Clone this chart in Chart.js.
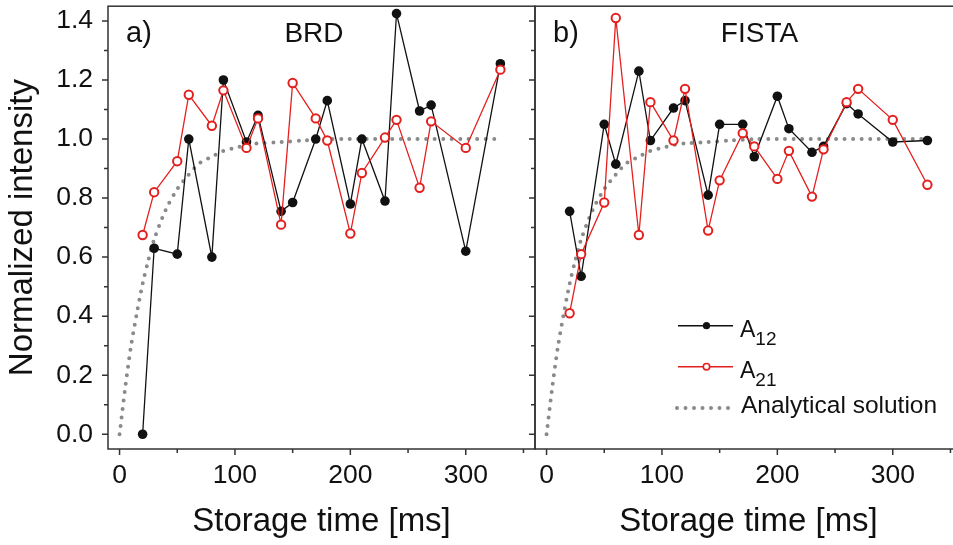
<!DOCTYPE html>
<html>
<head>
<meta charset="utf-8">
<script src="https://cdn.jsdelivr.net/npm/chart.js@4.4.1/dist/chart.umd.min.js"></script>
<style>
  html, body { margin:0; padding:0; background:#fff; overflow:hidden; width:953px; height:545px; }
  canvas { position:absolute; top:0; }
  #brd { left:0; }
  #fista { left:520px; }
</style>
</head>
<body>
<canvas id="brd" width="545" height="545"></canvas>
<canvas id="fista" width="452" height="545"></canvas>
<script>
// storage times shared by all measured series [ms]
const timesMs = [20, 30, 50, 60, 80, 90, 110, 120, 140, 150, 170, 180, 200, 210, 230, 240, 260, 270, 300, 330];

// a) BRD
const brdA12 = [0.00, 0.63, 0.61, 1.00, 0.60, 1.20, 0.99, 1.08, 0.755, 0.785, 1.00, 1.13, 0.78, 1.00, 0.79, 1.425, 1.095, 1.115, 0.62, 1.255];
const brdA21 = [0.675, 0.82, 0.925, 1.15, 1.045, 1.165, 0.97, 1.07, 0.71, 1.19, 1.07, 0.995, 0.68, 0.885, 1.005, 1.065, 0.835, 1.06, 0.97, 1.235];

// b) FISTA
const fistaA12 = [0.755, 0.535, 1.05, 0.915, 1.23, 0.995, 1.105, 1.13, 0.81, 1.05, 1.05, 0.94, 1.145, 1.035, 0.955, 0.975, 1.12, 1.085, 0.99, 0.995];
const fistaA21 = [0.41, 0.61, 0.785, 1.41, 0.675, 1.125, 0.995, 1.17, 0.69, 0.86, 1.02, 0.975, 0.865, 0.96, 0.805, 0.965, 1.125, 1.17, 1.065, 0.845];

// analytical solution
const analyticT = [0, 5, 10, 15, 20, 25, 30, 40, 50, 60, 70, 80, 90, 100, 110, 120, 140, 160, 180, 200, 250, 300, 330];
const analyticY = [0, 0.16, 0.30, 0.41, 0.51, 0.59, 0.66, 0.76, 0.83, 0.88, 0.92, 0.94, 0.96, 0.97, 0.98, 0.985, 0.99, 0.995, 1.0, 1.0, 1.0, 1.0, 1.0];

// axis ticks
const xMajorTicks = [0, 100, 200, 300];
const xMinorTicks = [50, 150, 250, 350];
const yMajorTicks = [0, 0.2, 0.4, 0.6, 0.8, 1.0, 1.2, 1.4];
const yMinorTicks = [0.1, 0.3, 0.5, 0.7, 0.9, 1.1, 1.3];

const FONT = "'Liberation Sans', Arial, Helvetica, sans-serif";
const BLACK = '#111111', RED = '#e3201e', GRAY = '#8a8a8a', AXIS = '#333333', TEXT = '#111111';

const pts = (xs, ys) => xs.map((x, i) => ({ x, y: ys[i] }));

// frame, outward ticks, panel labels and legend
const decor = {
  id: 'decor',
  afterDraw(chart, args, o) {
    const { ctx, chartArea: a, scales: { x, y } } = chart;
    ctx.save();
    ctx.strokeStyle = AXIS;
    ctx.lineWidth = 1.5;
    ctx.strokeRect(a.left, a.top, a.right - a.left, a.bottom - a.top);
    ctx.beginPath();
    xMajorTicks.forEach(v => { const p = x.getPixelForValue(v); ctx.moveTo(p, a.bottom); ctx.lineTo(p, a.bottom + 6); });
    xMinorTicks.forEach(v => { const p = x.getPixelForValue(v); ctx.moveTo(p, a.bottom); ctx.lineTo(p, a.bottom + 4); });
    yMajorTicks.forEach(v => { const p = y.getPixelForValue(v); ctx.moveTo(a.left, p); ctx.lineTo(a.left - 6, p); });
    yMinorTicks.forEach(v => { const p = y.getPixelForValue(v); ctx.moveTo(a.left, p); ctx.lineTo(a.left - 4, p); });
    ctx.stroke();

    ctx.fillStyle = TEXT;
    ctx.font = '29px ' + FONT;
    ctx.textBaseline = 'alphabetic';
    ctx.textAlign = 'left';
    ctx.fillText(o.tag, a.left + 18, a.top + 36);
    ctx.font = '28px ' + FONT;
    ctx.textAlign = 'center';
    ctx.fillText(o.name, a.left + o.nameX, a.top + 36);

    if (o.legend) {
      const lx0 = a.left + 143, lx1 = a.left + 198, mx = a.left + 171.5, tx = a.left + 205;
      const rows = [
        { y: 325.7, color: BLACK, sub: '12', fill: BLACK, r: 3.6, bw: 0 },
        { y: 366.7, color: RED, sub: '21', fill: '#fff', r: 3.2, bw: 1.6 }
      ];
      rows.forEach(r => {
        ctx.strokeStyle = r.color; ctx.lineWidth = 1.4;
        ctx.beginPath(); ctx.moveTo(lx0, r.y); ctx.lineTo(lx1, r.y); ctx.stroke();
        ctx.beginPath(); ctx.arc(mx, r.y, r.r, 0, Math.PI * 2);
        ctx.fillStyle = r.fill; ctx.fill();
        if (r.bw) { ctx.lineWidth = r.bw; ctx.stroke(); }
        ctx.fillStyle = TEXT; ctx.textAlign = 'left';
        ctx.font = '23px ' + FONT;
        ctx.fillText('A', tx, r.y + 11);
        const w = ctx.measureText('A').width;
        ctx.font = '19px ' + FONT;
        ctx.fillText(r.sub, tx + w, r.y + 19);
      });
      ctx.strokeStyle = GRAY; ctx.lineWidth = 4; ctx.lineCap = 'round';
      ctx.setLineDash([0, 8.5]);
      ctx.beginPath(); ctx.moveTo(lx0 - 1, 408); ctx.lineTo(lx1 - 4, 408); ctx.stroke();
      ctx.setLineDash([]);
      ctx.fillStyle = TEXT; ctx.font = '24.5px ' + FONT;
      ctx.fillText('Analytical solution', tx + 1, 413);
    }
    ctx.restore();
  }
};

function makeChart(id, a12, a21, showY, panel) {
  return new Chart(document.getElementById(id), {
    type: 'line',
    data: {
      datasets: [
        { label: 'A21', data: pts(timesMs, a21), borderColor: RED, borderWidth: 1.3,
          pointRadius: 4.2, pointBorderWidth: 2, pointBackgroundColor: '#fff', pointBorderColor: RED, tension: 0 },
        { label: 'A12', data: pts(timesMs, a12), borderColor: BLACK, borderWidth: 1.3,
          pointRadius: 4.8, pointBorderWidth: 0, pointBackgroundColor: BLACK, pointBorderColor: BLACK, tension: 0 },
        { label: 'Analytical solution', data: pts(analyticT, analyticY), borderColor: GRAY, borderWidth: 4,
          borderDash: [0, 8.5], borderCapStyle: 'round', pointRadius: 0, tension: 0.3 }
      ]
    },
    options: {
      responsive: false,
      animation: false,
      devicePixelRatio: 1,
      layout: { padding: { top: 6, right: 10, left: 0, bottom: 0 } },
      plugins: { legend: { display: false }, tooltip: { enabled: false }, decor: panel },
      scales: {
        x: {
          type: 'linear', min: -10, max: 360,
          afterBuildTicks: s => { s.ticks = xMajorTicks.map(v => ({ value: v })); },
          afterFit: s => { s.height = 96; s.paddingLeft = 0; s.paddingRight = 0; },
          grid: { display: false, drawTicks: false },
          border: { display: false },
          ticks: { autoSkip: false, maxRotation: 0, padding: 11, color: TEXT,
                   font: { family: FONT, size: 26.5 }, callback: v => String(v) },
          title: { display: true, text: 'Storage time [ms]', color: TEXT,
                   font: { family: FONT, size: 33 }, padding: { top: 0, bottom: 3 } }
        },
        y: {
          type: 'linear', min: -0.05, max: 1.45,
          afterBuildTicks: s => { s.ticks = yMajorTicks.map(v => ({ value: v })); },
          afterFit: s => { s.width = showY ? 108 : 15; s.paddingTop = 0; s.paddingBottom = 0; },
          grid: { display: false, drawTicks: false },
          border: { display: false },
          ticks: { display: showY, autoSkip: false, padding: 15, color: TEXT,
                   font: { family: FONT, size: 26.5 }, callback: v => v.toFixed(1) },
          title: { display: showY, text: 'Normalized intensity', color: TEXT,
                   font: { family: FONT, size: 33 }, padding: { top: 3, bottom: 0 } }
        }
      }
    },
    plugins: [decor]
  });
}

makeChart('brd', brdA12, brdA21, true, { tag: 'a)', name: 'BRD', nameX: 206, legend: false });
makeChart('fista', fistaA12, fistaA21, false, { tag: 'b)', name: 'FISTA', nameX: 224.5, legend: true });
</script>
</body>
</html>
